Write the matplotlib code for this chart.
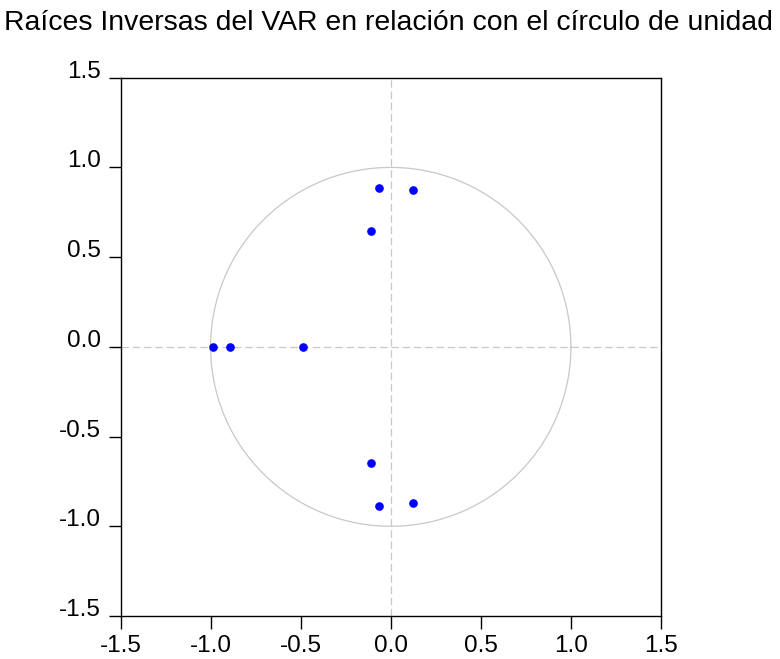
import numpy as np
import matplotlib
matplotlib.use("Agg")
import matplotlib.pyplot as plt

# raíces inversas del VAR (parte real, parte imaginaria)
real_part = [-0.063, -0.063, 0.126, 0.126, -0.107, -0.107, -0.986, -0.893, -0.486]
imag_part = [0.888, -0.888, 0.872, -0.872, 0.648, -0.648, 0.0, 0.0, 0.0]

ticks = [-1.5, -1.0, -0.5, 0.0, 0.5, 1.0, 1.5]
tick_labels = ["-1.5", "-1.0", "-0.5", "0.0", "0.5", "1.0", "1.5"]
title = "Raíces Inversas del VAR en relación con el círculo de unidad"

plt.rcParams['font.family'] = ['Liberation Sans', 'DejaVu Sans']

fig = plt.figure(figsize=(7.8, 6.59), dpi=100)
ax = fig.add_axes([120.5 / 780, 1 - 616 / 659, (661 - 120.5) / 780, (616 - 77.7) / 659])

# circulo unitario
theta = np.linspace(0, 2 * np.pi, 400)
ax.plot(np.cos(theta), np.sin(theta), color='#c8c8c8', lw=0.9, zorder=1)
ax.axhline(0, color='#c8c8c8', lw=0.9, ls=(0, (6, 3)), zorder=1)
ax.axvline(0, color='#c8c8c8', lw=0.9, ls=(0, (6, 3)), zorder=1)

ax.plot(real_part, imag_part, 'o', color='#0000ff', markersize=5.2, zorder=3)

ax.set_xlim(-1.5, 1.5)
ax.set_ylim(-1.5, 1.5)
ax.set_xticks(ticks)
ax.set_xticklabels(tick_labels, fontsize=17.5)
ax.set_yticks(ticks)
ax.set_yticklabels(tick_labels, fontsize=17.5)
ax.tick_params(axis='both', direction='out', length=9, width=1, colors='black')
ax.tick_params(axis='x', pad=5)
ax.tick_params(axis='y', pad=5)
for lbl in ax.get_yticklabels():
    lbl.set_verticalalignment('baseline')
for s in ax.spines.values():
    s.set_linewidth(1)

fig.text(4 / 780, 1 - 30 / 659, title, fontsize=20.4, ha='left', va='baseline')

fig.savefig("out.png", dpi=100)
